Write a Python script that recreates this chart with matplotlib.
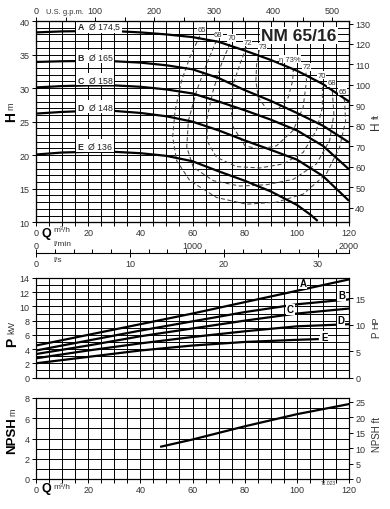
import numpy as np
import matplotlib
matplotlib.use('Agg')
import matplotlib.pyplot as plt
from matplotlib.ticker import MultipleLocator, FixedLocator, NullLocator

plt.rcParams['font.family'] = ['Liberation Sans', 'DejaVu Sans']
plt.rcParams['mathtext.fontset'] = 'custom'
plt.rcParams['mathtext.rm'] = 'Liberation Sans'
plt.rcParams['mathtext.bf'] = 'Liberation Sans:bold'

# ---------------- data ----------------
q_head = [0, 10, 20, 30, 40, 50, 60, 70, 80, 90, 100, 110, 120]
head_A = [38.3, 38.45, 38.5, 38.5, 38.3, 38.0, 37.6, 36.9, 35.6, 34.2, 32.6, 30.6, 28.0]
head_B = [33.9, 34.0, 34.05, 34.0, 33.8, 33.4, 32.8, 31.5, 29.7, 28.1, 26.3, 24.4, 21.9]
head_C = [30.1, 30.3, 30.4, 30.4, 30.2, 29.8, 29.2, 28.0, 26.7, 25.3, 23.7, 21.4, 17.9]
head_D = [26.2, 26.45, 26.6, 26.6, 26.3, 25.8, 25.0, 23.7, 22.2, 20.8, 19.35, 16.9, 13.2]
q_head_E = [0, 10, 20, 30, 40, 50, 60, 70, 80, 90, 100, 105, 108]
head_E = [20.1, 20.4, 20.5, 20.5, 20.3, 19.9, 19.1, 17.6, 16.2, 14.6, 12.6, 11.2, 10.2]

curve_names = ['A', 'B', 'C', 'D', 'E']
diameters = ['174,5', '165', '158', '148', '136']

# iso-efficiency lines (Q m3/h, H m)
eff_73_q = [85.6, 84.6, 84.3, 85.2, 88.4, 92.9, 96.7, 98.4, 98.7]
eff_73_h = [35.7, 33.6, 31.1, 28.6, 26.9, 26.9, 28.6, 31.1, 33.1]
eff_72_q = [80.7, 78.2, 75.6, 74.7, 75.6, 80.1, 85.8, 92.2, 98.6, 102.4, 103.7, 103.5]
eff_72_h = [36.1, 33.6, 30.6, 27.1, 24.2, 21.4, 20.9, 21.4, 23.7, 27.1, 31.1, 32.3]
eff_70_q = [74.3, 71.1, 67.9, 65.6, 65.6, 69.2, 76.8, 85.8, 94.8, 102.4, 107.5, 109.8, 109.8, 109.5]
eff_70_h = [36.6, 33.6, 29.6, 25.6, 22.1, 19.7, 18.3, 18.1, 18.7, 20.4, 23.7, 27.1, 30.1, 30.8]
eff_68_q = [69.2, 65.4, 61.6, 58.4, 57.8, 60.3, 68.0, 78.2, 88.4, 98.6, 107.5, 112.6, 114.2, 113.6]
eff_68_h = [37.1, 33.6, 29.6, 25.1, 21.2, 18.2, 16.2, 15.4, 15.6, 16.4, 18.7, 22.2, 26.1, 29.6]
eff_65_q = [62.8, 59.0, 55.8, 53.3, 52.4, 53.9, 59.0, 69.2, 80.7, 92.2, 102.4, 111.3, 116.4, 118.7, 118.3, 118.0]
eff_65_h = [37.8, 34.6, 31.1, 26.6, 22.7, 19.2, 16.2, 13.7, 12.7, 13.0, 14.2, 17.2, 21.2, 25.1, 28.1, 28.4]

eff_labels = ['65', '68', '70', '72', '73', 'η 73%', '72', '70', '68', '65']
eff_label_q = [63.5, 69.9, 75.0, 81.1, 86.8, 97.3, 103.7, 109.5, 113.3, 117.5]
eff_label_h = [38.7, 38.0, 37.5, 36.8, 36.2, 34.3, 33.2, 31.9, 30.8, 29.5]

q_pow = [0, 20, 40, 60, 80, 100, 120]
pow_A = [4.5, 6.0, 7.5, 9.0, 10.6, 12.2, 13.8]
pow_B = [3.8, 5.2, 6.6, 7.9, 9.2, 10.3, 11.0]
pow_C = [3.3, 4.5, 5.8, 6.9, 8.0, 9.0, 9.7]
pow_D = [2.7, 3.8, 4.8, 5.7, 6.5, 7.2, 7.5]
q_pow_E = [0, 20, 40, 60, 80, 100, 108]
pow_E = [2.0, 2.9, 3.8, 4.5, 5.0, 5.3, 5.4]
pow_label_q = [102.4, 117.1, 97.6, 116.9, 110.5]
pow_label_p = [13.25, 11.6, 9.6, 8.06, 5.76]

q_npsh = [48, 60, 80, 100, 120]
npsh = [3.2, 3.9, 5.2, 6.4, 7.4]

M_TO_FT = 3.28084
M3H_TO_GPM = 4.40287
KW_TO_HP = 1.34102

# ---------------- layout helpers ----------------
FIG_W, FIG_H = 390, 510
X0, X1 = 36, 349
TXT = '#333333'
TICK_FS = 6.5
LW_GRID = 0.7
LW_CURVE = 1.6


def fx(px):
  return px / FIG_W


def fy(py):
  return 1 - py / FIG_H


def make_axes(fig, top, bottom):
  return fig.add_axes([fx(X0), fy(bottom), (X1 - X0) / FIG_W, (bottom - top) / FIG_H])


def style_axes(ax):
  for s in ax.spines.values():
    s.set_linewidth(0.8)
  ax.grid(which='both', color='black', linewidth=LW_GRID)
  ax.set_axisbelow(True)
  ax.tick_params(which='both', direction='out', width=0.7, length=3,
                 labelsize=TICK_FS, labelcolor=TXT, pad=1.5)


fig = plt.figure(figsize=(FIG_W / 100, FIG_H / 100), dpi=100)

# ---------------- head chart ----------------
ax_h = make_axes(fig, 22, 223.3)
ax_h.set_xlim(0, 120)
ax_h.set_ylim(10, 40)
ax_h.xaxis.set_major_locator(MultipleLocator(20))
ax_h.xaxis.set_minor_locator(MultipleLocator(5))
ax_h.yaxis.set_major_locator(MultipleLocator(5))
ax_h.yaxis.set_minor_locator(MultipleLocator(1))
style_axes(ax_h)
ax_h.tick_params(axis='y', which='minor', length=0)
ax_h.tick_params(axis='x', pad=1)

for qq, hh in [(q_head, head_A), (q_head, head_B), (q_head, head_C),
               (q_head, head_D), (q_head_E, head_E)]:
  ax_h.plot(qq, hh, color='black', lw=LW_CURVE, solid_capstyle='butt', zorder=4)

for qq, hh in [(eff_73_q, eff_73_h), (eff_72_q, eff_72_h), (eff_70_q, eff_70_h),
               (eff_68_q, eff_68_h), (eff_65_q, eff_65_h)]:
  ax_h.plot(qq, hh, color='#444444', lw=0.75, ls=(0, (4, 2.5)), zorder=3)

for lab, q, h in zip(eff_labels, eff_label_q, eff_label_h):
  ax_h.text(q, h, lab, fontsize=5.5, color=TXT, ha='center', va='center', zorder=5,
            bbox=dict(facecolor='white', edgecolor='none', pad=0.3))

label_h = [39.2, 34.7, 31.35, 27.3, 21.4]
for name, dia, h in zip(curve_names, diameters, label_h):
  ax_h.text(15.6, h, r'$\mathbf{' + name + '}$  Ø ' + dia, fontsize=6.3, color='#222222',
            ha='left', va='center', zorder=5,
            bbox=dict(facecolor='white', edgecolor='none', pad=0.6))

ax_h.text(100.8, 37.9, 'NM 65/16', fontsize=12.5, fontweight='bold', color='#222222',
          ha='center', va='center', zorder=6,
          bbox=dict(facecolor='white', edgecolor='none', pad=0.8))

# right axis (ft)
ax_hf = ax_h.twinx()
ax_hf.set_ylim(10 * M_TO_FT, 40 * M_TO_FT)
ax_hf.yaxis.set_major_locator(MultipleLocator(10))
ax_hf.tick_params(direction='out', width=0.7, length=3, labelsize=TICK_FS, labelcolor=TXT, pad=1.5)

# top axis (US gpm)
ax_g = ax_h.twiny()
ax_g.set_xlim(0, 120 * M3H_TO_GPM)
ax_g.xaxis.set_major_locator(MultipleLocator(100))
ax_g.xaxis.set_minor_locator(MultipleLocator(50))
ax_g.tick_params(which='both', direction='out', width=0.7, length=3, labelsize=TICK_FS,
                 labelcolor=TXT, pad=1)

fig.text(fx(46), fy(12.5), 'U.S. g.p.m.', fontsize=5.4, color=TXT, va='center', ha='left')
fig.text(fx(11), fy(117), 'H', fontsize=10, fontweight='bold', rotation=90, ha='center', va='center')
fig.text(fx(11), fy(106.5), 'm', fontsize=6.5, rotation=90, ha='center', va='center', color=TXT)
fig.text(fx(376), fy(126), 'H', fontsize=8.5, rotation=90, ha='center', va='center', color=TXT)
fig.text(fx(376), fy(116.5), 'ft', fontsize=6.5, rotation=90, ha='center', va='center', color=TXT)
fig.text(fx(46.5), fy(234.5), 'Q', fontsize=9, fontweight='bold', ha='center', va='center')
fig.text(fx(53), fy(230.5), 'm³/h', fontsize=6, color=TXT, ha='left', va='center')

# l/min row
ax_lm = make_axes(fig, 239, 239.5)
ax_lm.set_xlim(0, 2000)
ax_lm.xaxis.set_major_locator(FixedLocator([0, 1000, 2000]))
ax_lm.yaxis.set_major_locator(NullLocator())
ax_lm.tick_params(axis='x', length=0, labelsize=TICK_FS, labelcolor=TXT, pad=1.5)
for s in ax_lm.spines.values():
  s.set_visible(False)
ax_lm.patch.set_visible(False)
fig.text(fx(53), fy(244.5), 'l/min', fontsize=6, color=TXT, ha='left', va='center')

# l/s axis
ax_ls = make_axes(fig, 253.3, 253.5)
ax_ls.set_xlim(0, 120 / 3.6)
ax_ls.xaxis.set_major_locator(MultipleLocator(10))
ax_ls.yaxis.set_major_locator(NullLocator())
for k in ['top', 'left', 'right']:
  ax_ls.spines[k].set_visible(False)
ax_ls.spines['bottom'].set_linewidth(0.8)
ax_ls.patch.set_visible(False)
ax_ls.tick_params(axis='x', which='major', direction='inout', length=6, width=0.7,
                  labelsize=TICK_FS, labelcolor=TXT, pad=1.5)
ax_ls.tick_params(axis='x', which='minor', direction='in', length=3, width=0.7)
ax_ls.xaxis.set_minor_locator(FixedLocator(list(np.arange(2, 34, 2)) + [120 / 3.6]))
fig.text(fx(53), fy(260.5), 'l/s', fontsize=6, color=TXT, ha='left', va='center')

# ---------------- power chart ----------------
ax_p = make_axes(fig, 279, 378.5)
ax_p.set_xlim(0, 120)
ax_p.set_ylim(0, 14)
ax_p.xaxis.set_major_locator(MultipleLocator(20))
ax_p.xaxis.set_minor_locator(MultipleLocator(5))
ax_p.yaxis.set_major_locator(MultipleLocator(2))
ax_p.yaxis.set_minor_locator(MultipleLocator(1))
style_axes(ax_p)
ax_p.tick_params(axis='x', which='both', length=0, labelbottom=False)
ax_p.tick_params(axis='y', which='minor', length=0)

for qq, pp in [(q_pow, pow_A), (q_pow, pow_B), (q_pow, pow_C), (q_pow, pow_D), (q_pow_E, pow_E)]:
  ax_p.plot(qq, pp, color='black', lw=LW_CURVE, zorder=4)
for name, q, p in zip(curve_names, pow_label_q, pow_label_p):
  ax_p.text(q, p, name, fontsize=7, fontweight='bold', ha='center', va='center', zorder=5,
            bbox=dict(facecolor='white', edgecolor='none', pad=0.4))

ax_ph = ax_p.twinx()
ax_ph.set_ylim(0, 14 * KW_TO_HP)
ax_ph.yaxis.set_major_locator(MultipleLocator(5))
ax_ph.tick_params(direction='out', width=0.7, length=3, labelsize=TICK_FS, labelcolor=TXT, pad=1.5)

fig.text(fx(12), fy(342), 'P', fontsize=10, fontweight='bold', rotation=90, ha='center', va='center')
fig.text(fx(12), fy(327), 'kW', fontsize=6.5, rotation=90, ha='center', va='center', color=TXT)
fig.text(fx(376), fy(334.5), 'P', fontsize=7, rotation=90, ha='center', va='center', color=TXT)
fig.text(fx(376), fy(322.5), 'HP', fontsize=6.5, rotation=90, ha='center', va='center', color=TXT)

# ---------------- NPSH chart ----------------
ax_n = make_axes(fig, 399, 480)
ax_n.set_xlim(0, 120)
ax_n.set_ylim(0, 8)
ax_n.xaxis.set_major_locator(MultipleLocator(20))
ax_n.xaxis.set_minor_locator(MultipleLocator(5))
ax_n.yaxis.set_major_locator(MultipleLocator(2))
ax_n.yaxis.set_minor_locator(MultipleLocator(1))
style_axes(ax_n)
ax_n.tick_params(axis='y', which='minor', length=0)
ax_n.tick_params(axis='x', pad=1)
ax_n.plot(q_npsh, npsh, color='black', lw=LW_CURVE, zorder=4)

ax_nf = ax_n.twinx()
ax_nf.set_ylim(0, 8 * M_TO_FT)
ax_nf.yaxis.set_major_locator(MultipleLocator(5))
ax_nf.tick_params(direction='out', width=0.7, length=3, labelsize=TICK_FS, labelcolor=TXT, pad=1.5)

fig.text(fx(12.5), fy(436), 'NPSH', fontsize=9.5, fontweight='bold', rotation=90, ha='center', va='center')
fig.text(fx(12.5), fy(412), 'm', fontsize=6.5, rotation=90, ha='center', va='center', color=TXT)
fig.text(fx(377), fy(435), 'NPSH ft', fontsize=7, rotation=90, ha='center', va='center', color=TXT)
fig.text(fx(46.5), fy(489.5), 'Q', fontsize=9, fontweight='bold', ha='center', va='center')
fig.text(fx(53), fy(488), 'm³/h', fontsize=6, color=TXT, ha='left', va='center')
fig.text(fx(328), fy(484), '72.023', fontsize=3.5, color=TXT, ha='center', va='center')

fig.savefig('out.png', dpi=100)
